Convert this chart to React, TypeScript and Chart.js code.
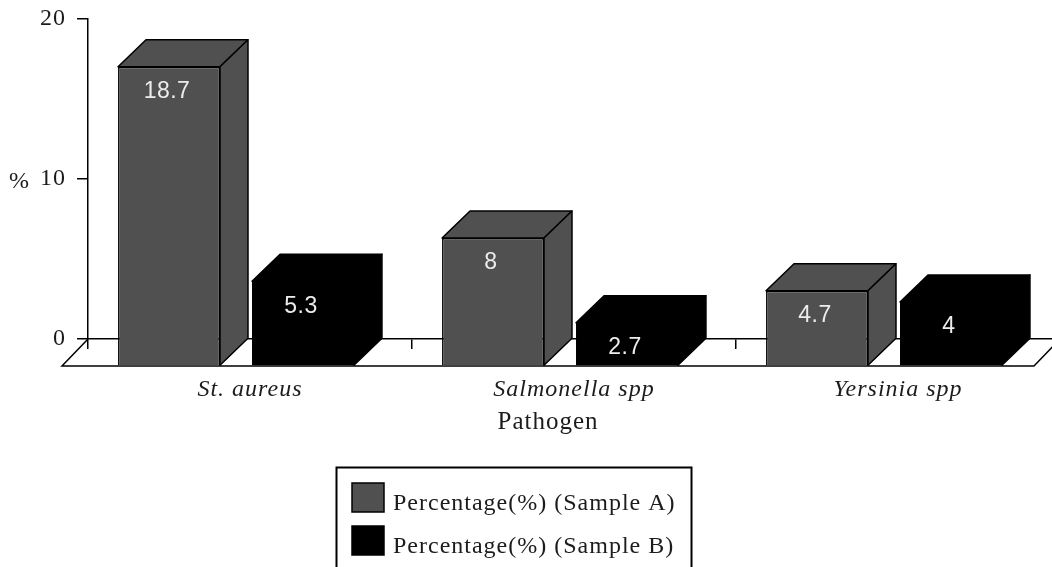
import React, { useEffect, useRef } from "react";
import { Chart, registerables } from "chart.js";

Chart.register(...registerables);

const categories = ["St. aureus", "Salmonella spp", "Yersinia spp"];
const sampleA = [18.7, 8, 4.7];
const sampleB = [5.3, 2.7, 4];
const seriesNames = ["Percentage(%) (Sample A)", "Percentage(%) (Sample B)"];
const seriesColors = ["#505050", "#000000"];
const yTicks = [0, 10, 20];
const xTitle = "Pathogen";
const yTitle = "%";

const SERIF = "'Liberation Serif', serif";
const SANS = "'Liberation Sans', sans-serif";
const TEXT = "#1c1c1c";
const FLOOR_DX = 26;
const FLOOR_DY = 27;
const FRONT_DX = 14;
const DEPTH_DX = 28;
const DEPTH_DY = 27;

const plugin3d = {
  id: "plugin3d",
  beforeDraw(chart: any) {
    chart.ctx.letterSpacing = "1px";
  },
  beforeDatasetsDraw(chart: any) {
    const { ctx, chartArea: a } = chart;
    ctx.save();
    ctx.strokeStyle = "#000";
    ctx.lineWidth = 1.5;
    ctx.beginPath();
    ctx.moveTo(a.left, a.bottom);
    ctx.lineTo(a.left - FLOOR_DX, a.bottom + FLOOR_DY);
    ctx.lineTo(a.right - FLOOR_DX, a.bottom + FLOOR_DY);
    ctx.lineTo(a.right, a.bottom);
    ctx.stroke();
    ctx.restore();

    ctx.save();
    ctx.translate(-FRONT_DX, FLOOR_DY);
    chart.data.datasets.forEach((ds: any, i: number) => {
      chart.getDatasetMeta(i).data.forEach((el: any) => {
        const p = el.getProps(["x", "y", "base", "width"], true);
        const l = p.x - p.width / 2;
        const r = p.x + p.width / 2;
        ctx.fillStyle = ds.backgroundColor;
        ctx.strokeStyle = "#000";
        ctx.lineWidth = 1.5;
        ctx.lineJoin = "round";
        ctx.beginPath();
        ctx.moveTo(l, p.y);
        ctx.lineTo(l + DEPTH_DX, p.y - DEPTH_DY);
        ctx.lineTo(r + DEPTH_DX, p.y - DEPTH_DY);
        ctx.lineTo(r, p.y);
        ctx.closePath();
        ctx.fill();
        ctx.stroke();
        ctx.beginPath();
        ctx.moveTo(r, p.y);
        ctx.lineTo(r + DEPTH_DX, p.y - DEPTH_DY);
        ctx.lineTo(r + DEPTH_DX, p.base - DEPTH_DY);
        ctx.lineTo(r, p.base);
        ctx.closePath();
        ctx.fill();
        ctx.stroke();
      });
    });
  },
  afterDatasetsDraw(chart: any) {
    const { ctx } = chart;
    ctx.font = `23px ${SANS}`;
    ctx.letterSpacing = "0.5px";
    ctx.textAlign = "center";
    ctx.textBaseline = "middle";
    chart.data.datasets.forEach((ds: any, i: number) => {
      chart.getDatasetMeta(i).data.forEach((el: any, j: number) => {
        const p = el.getProps(["x", "y"], true);
        ctx.fillStyle = "#ececec";
        ctx.fillText(String(ds.data[j]), p.x - 2, p.y + 25);
      });
    });
    ctx.restore();
  },
  afterDraw(chart: any) {
    const { ctx, scales } = chart;
    ctx.save();
    ctx.letterSpacing = "1px";
    ctx.fillStyle = TEXT;
    ctx.textBaseline = "middle";
    ctx.textAlign = "left";
    ctx.font = `24px ${SERIF}`;
    ctx.fillText(yTitle, 9, scales.y.getPixelForValue(10) + 3);

    ctx.textAlign = "center";
    ctx.font = `25px ${SERIF}`;
    ctx.fillText(xTitle, 548, 422);
    ctx.textAlign = "left";
    ctx.font = `24px ${SERIF}`;

    // Framed legend, cut off by the bottom of the picture as in the reference
    ctx.strokeStyle = "#000";
    ctx.lineWidth = 2;
    ctx.strokeRect(336.5, 467.5, 355, 130);
    chart.data.datasets.forEach((ds: any, i: number) => {
      const top = 483 + i * 43;
      ctx.fillStyle = ds.backgroundColor;
      ctx.fillRect(352, top, 32, 29);
      ctx.strokeStyle = "#000";
      ctx.lineWidth = 1.5;
      ctx.strokeRect(352, top, 32, 29);
      ctx.fillStyle = TEXT;
      ctx.fillText(ds.label, 393, top + 21);
    });
    ctx.restore();
  },
};

export default function App() {
  const ref = useRef<HTMLCanvasElement>(null);
  useEffect(() => {
    document.body.style.margin = "0";
    const chart = new Chart(ref.current as HTMLCanvasElement, {
      type: "bar",
      data: {
        labels: categories,
        datasets: [
          { label: seriesNames[0], data: sampleA, backgroundColor: seriesColors[0], borderColor: "#000", borderWidth: 1.5, clip: false as any },
          { label: seriesNames[1], data: sampleB, backgroundColor: seriesColors[1], borderWidth: 0, clip: false as any },
        ],
      },
      options: {
        responsive: false,
        animation: false,
        devicePixelRatio: 1,
        layout: { padding: { top: 19, left: 0, right: 2, bottom: 132 } },
        datasets: { bar: { categoryPercentage: 0.827, barPercentage: 0.761 } },
        plugins: { legend: { display: false }, tooltip: { enabled: false }, title: { display: false } },
        scales: {
          x: {
            offset: true,
            afterFit: (s: any) => { s.height = 96; },
            grid: { offset: true, drawOnChartArea: false, drawTicks: true, tickLength: 10, color: "#000", lineWidth: 1.5 },
            border: { color: "#000", width: 1.5 },
            ticks: { color: TEXT, padding: 26, maxRotation: 0, font: { family: SERIF, size: 24, style: "italic" } },
          },
          y: {
            min: 0,
            max: 20,
            afterFit: (s: any) => { s.width = 88; s.paddingTop = 0; s.paddingBottom = 0; },
            afterBuildTicks: (s: any) => { s.ticks = yTicks.map((value) => ({ value })); },
            grid: { drawOnChartArea: false, tickLength: 11, color: "#000", lineWidth: 1.5 },
            border: { color: "#000", width: 1.5 },
            ticks: { color: TEXT, padding: 11, font: { family: SERIF, size: 24 } },
          },
        },
      },
      plugins: [plugin3d as any],
    });
    return () => chart.destroy();
  }, []);
  return (
    <div style={{ position: "absolute", left: 0, top: 0, width: 1052, height: 567, overflow: "hidden", background: "#fff" }}>
      <canvas ref={ref} width={1062} height={567} style={{ display: "block" }} />
    </div>
  );
}
